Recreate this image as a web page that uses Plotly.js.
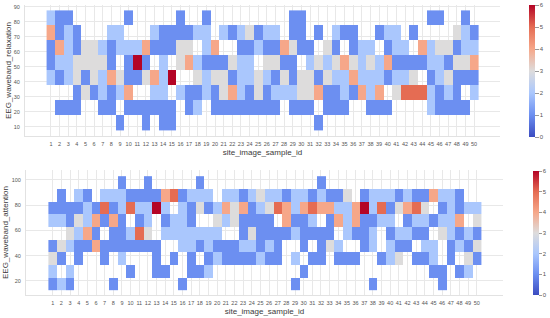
<!DOCTYPE html>
<html><head><meta charset="utf-8">
<script src="https://cdn.plot.ly/plotly-3.0.1.min.js"></script>
<style>html,body{margin:0;padding:0;background:#fff}</style></head>
<body><div id="chart" style="width:550px;height:318px"></div>
<script>
const sampleIds = Array.from({length:50},(_,i)=>i+1);
const relaxationBins = [82.5,72.5,62.5,52.5,42.5,32.5,22.5,12.5];
// counts per sample, top bin to bottom bin; 0 = empty
const relaxationCounts = [
[2,4,1,1,2,0,0,0],[1,1,4,2,1,0,1,0],[1,2,2,2,2,0,1,0],[0,1,1,3,3,1,1,0],[0,0,3,3,1,3,0,0],
[0,0,3,3,3,1,0,0],[0,0,2,3,2,2,1,0],[0,2,1,1,4,1,1,0],[0,2,2,0,3,2,0,1],[1,0,2,1,1,4,1,0],
[0,0,2,6,1,0,1,0],[0,0,4,1,3,0,1,1],[0,2,1,0,4,2,1,0],[0,1,1,2,2,2,1,1],[0,1,1,0,6,0,1,1],
[1,1,3,3,0,2,0,0],[0,1,3,4,0,1,1,0],[0,2,0,2,3,1,2,0],[1,2,2,1,2,2,0,0],[0,0,4,1,3,1,1,0],
[0,2,0,1,3,3,1,0],[0,1,0,3,1,4,1,0],[0,2,1,2,2,2,1,0],[0,3,1,2,2,1,1,0],[0,1,2,0,3,3,1,0],
[0,2,1,3,2,1,1,0],[0,2,1,3,1,2,1,0],[0,0,4,1,3,2,0,0],[1,1,3,1,1,2,1,0],[1,1,1,0,3,3,1,0],
[0,0,1,2,3,3,1,0],[0,1,0,3,1,4,0,1],[0,0,3,2,3,1,1,0],[0,2,1,3,2,1,1,0],[0,1,0,4,2,2,1,0],
[0,1,1,3,4,1,0,0],[0,0,2,2,2,4,0,0],[0,0,2,3,2,2,1,0],[0,1,0,2,2,4,1,0],[0,2,1,4,1,0,1,0],
[0,2,2,1,2,3,0,0],[0,0,2,1,2,5,0,0],[0,1,0,1,3,5,0,0],[0,0,4,1,0,5,0,0],[1,0,2,2,1,2,2,0],
[1,0,3,2,2,1,1,0],[0,0,3,1,3,2,1,0],[0,3,1,3,1,1,1,0],[1,2,2,3,1,0,1,0],[0,1,2,4,1,2,0,0]
];
const attentionBins = [98,88,78,68,58,48,38,28,18];
const attentionCounts = [
[0,0,1,2,0,1,3,2,1],[0,1,1,2,0,3,1,0,2],[0,0,1,1,3,2,0,2,1],[0,2,1,3,2,1,1,0,0],[0,1,2,2,4,1,0,0,0],
[0,0,1,4,1,4,0,0,0],[0,2,5,1,0,1,1,0,0],[0,2,1,4,1,1,0,0,1],[1,2,2,1,1,1,2,0,0],[0,1,5,0,2,1,0,1,0],
[0,1,2,1,5,1,0,0,0],[1,1,2,2,3,1,0,0,0],[0,1,6,0,0,1,1,1,0],[0,4,2,1,2,0,0,1,0],[0,5,0,2,2,0,1,0,0],
[0,1,2,2,2,2,0,0,1],[0,2,1,1,2,2,1,1,0],[1,2,3,0,2,1,0,1,0],[0,2,1,0,2,2,1,2,0],[0,0,2,3,2,1,2,0,0],
[0,2,4,2,0,1,1,0,0],[0,2,3,3,0,1,1,0,0],[0,1,4,1,1,2,1,0,0],[0,2,1,1,3,2,1,0,0],[0,3,2,1,1,1,2,0,0],
[0,2,3,1,1,2,1,0,0],[0,2,5,0,1,1,1,0,0],[0,1,4,4,1,0,0,0,0],[0,2,2,1,2,0,2,0,1],[0,2,4,1,1,1,0,1,0],
[0,1,5,2,1,0,1,0,0],[1,2,4,0,1,1,1,0,0],[0,1,4,1,1,3,0,0,0],[0,1,2,4,0,2,1,0,0],[0,3,2,2,2,0,1,0,0],
[0,0,4,4,1,0,1,0,0],[0,1,6,1,1,1,0,0,0],[0,2,2,1,2,2,0,0,1],[0,2,5,2,0,0,1,0,0],[0,2,1,2,1,2,2,0,0],
[0,1,3,0,2,1,3,0,0],[0,2,4,1,2,1,0,0,0],[0,1,5,2,1,0,1,0,0],[0,1,3,2,1,2,1,0,0],[0,4,0,1,0,2,2,1,0],
[0,2,1,2,3,0,0,1,1],[0,2,2,2,2,1,1,0,0],[0,1,1,4,1,2,0,1,0],[0,0,2,0,2,1,3,2,0],[0,0,2,3,1,3,1,0,0]
];
const colorTicks = [0,1,2,3,4,5,6];
const coolwarm = [[0,'#3b4cc0'],[1/6,'#6c8ff1'],[2/6,'#aac7fd'],[0.5,'#dddcdc'],[4/6,'#f6a789'],[5/6,'#e56c53'],[1,'#b40426']];
const W=550,H=318;
const font='Liberation Sans, Arial, sans-serif';
function grid(cols,nBins){const z=[];for(let r=0;r<nBins;r++){z.push(cols.map(c=>c[r]===0?null:c[r]));}return z;}
function trace(bins,cols,xa,ya,cb){
  return {type:'heatmap',x:sampleIds,y:bins,z:grid(cols,bins.length),xaxis:xa,yaxis:ya,
    colorscale:coolwarm,zmin:0,zmax:6,hoverongaps:false,
    colorbar:Object.assign({thicknessmode:'pixels',lenmode:'pixels',xanchor:'left',yanchor:'top',
      xref:'paper',yref:'paper',xpad:0,ypad:0,outlinewidth:0,ticks:'outside',tickwidth:1,tickcolor:'#999',
      tickvals:colorTicks,ticktext:colorTicks.map(String),tickfont:{size:6,color:'#555',family:font}},cb)};
}
function xax(l,r,anchor){return {domain:[l/W,r/W],anchor:anchor,range:[-2,53],tickmode:'array',tickvals:sampleIds,ticktext:sampleIds.map(String),
  tickangle:0,showgrid:true,gridcolor:'#e8e8e8',gridwidth:1,zeroline:false,showline:true,linecolor:'#e2e2e2',ticks:'',
  tickfont:{size:5.5,color:'#555',family:font},ticklabelstandoff:2,
  title:{text:'site_image_sample_id',font:{size:8,color:'#3a3a3a',family:font},standoff:3}};}
function yax(t,b,range,vals,title,anchor,so){return {domain:[1-b/H,1-t/H],anchor:anchor,range:range,tickmode:'array',tickvals:vals,ticktext:vals.map(String),
  showgrid:true,gridcolor:'#e8e8e8',gridwidth:1,zeroline:false,showline:true,linecolor:'#e2e2e2',ticks:'',
  tickfont:{size:5.5,color:'#555',family:font},ticklabelstandoff:3,
  title:{text:title,font:{size:8,color:'#3a3a3a',family:font},standoff:so}};}
const data=[
 trace(relaxationBins,relaxationCounts,'x','y',{x:529/W,y:1-5/H,thickness:6,len:132,ticklen:4}),
 trace(attentionBins,attentionCounts,'x2','y2',{x:533/W,y:1-171/H,thickness:6,len:124,ticklen:3})
];
const layout={width:W,height:H,margin:{l:0,r:0,t:0,b:0},paper_bgcolor:'#fff',plot_bgcolor:'#fff',showlegend:false,
 xaxis:xax(25,500,'y'),
 yaxis:yax(5,136,[3.8,91.1],[10,20,30,40,50,60,70,80,90],'EEG_waveband_relaxation','x',0),
 xaxis2:Object.assign(xax(26,503,'y2'),{range:[-2.09,53.04]}),
 yaxis2:yax(170,295,[8.9,107.9],[20,40,60,80,100],'EEG_waveband_attention','x2',1)
};
Plotly.newPlot('chart',data,layout,{displayModeBar:false,staticPlot:true});
</script></body></html>
